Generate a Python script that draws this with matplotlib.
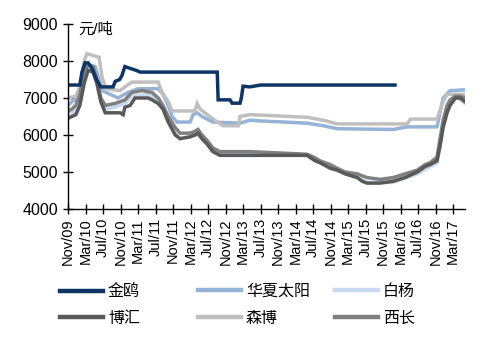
import matplotlib
matplotlib.use("Agg")
import matplotlib.pyplot as plt
from matplotlib.lines import Line2D

plt.rcParams['font.family'] = ['Liberation Sans', 'Noto Sans CJK SC', 'DejaVu Sans']

# months since Nov 2009
tick_labels = ["Nov/09", "Mar/10", "Jul/10", "Nov/10", "Mar/11", "Jul/11", "Nov/11", "Mar/12",
               "Jul/12", "Nov/12", "Mar/13", "Jul/13", "Nov/13", "Mar/14", "Jul/14", "Nov/14",
               "Mar/15", "Jul/15", "Nov/15", "Mar/16", "Jul/16", "Nov/16", "Mar/17"]
tick_months = [4 * i for i in range(len(tick_labels))]

jinou_m = [0, 2.7, 3.2, 3.9, 4.6, 5.5, 6.5, 7.5, 8.5, 10.3, 10.8, 11.8, 12.3, 13.0, 14.2, 15.5, 16.5,
           34.1, 34.3, 37.0, 37.5, 39.3, 39.6, 40.0, 41.5, 44.0, 74.7]
jinou_v = [7350, 7350, 7700, 7950, 7950, 7800, 7500, 7300, 7300, 7300, 7450, 7500, 7600, 7850, 7800, 7750, 7700,
           7700, 6950, 6950, 6860, 6860, 7000, 7320, 7300, 7350, 7350]

huaxia_m = [0, 0.9, 2.3, 3.2, 4.1, 6.2, 7.1, 7.8, 9.6, 11.4, 13.7, 16.0, 20.6, 21.7, 22.9, 23.8, 24.9,
            27.9, 28.6, 29.5, 30.6, 33.1, 39.3, 41.6, 43.9, 54.6, 58.3, 61.5, 74.3, 77.5, 84.3, 85.7, 87.3, 90.7]
huaxia_v = [6800, 6900, 7000, 7500, 7900, 7850, 7500, 7200, 7100, 7000, 7150, 7250, 7250, 7100, 6800, 6500, 6350,
            6350, 6550, 6600, 6500, 6350, 6320, 6400, 6380, 6320, 6250, 6170, 6150, 6220, 6220, 7000, 7200, 7220]

baiyang_m = [0, 1.8, 2.7, 3.7, 4.6, 5.7, 6.6, 7.5, 8.5, 10.7, 13.0, 14.6, 18.3, 20.6, 22.9, 24.5, 25.6, 29.0,
             29.7, 31.8, 33.1, 34.7, 54.6, 57.6, 61.5, 66.1, 68.3, 74.3, 79.8, 84.3, 85.7, 87.3, 88.5, 90.7]
baiyang_v = [6550, 6650, 6900, 7500, 7800, 7750, 7400, 6900, 6700, 6750, 6850, 7050, 7100, 6950, 6450, 6050, 5900, 6000,
             6000, 5800, 5600, 5500, 5450, 5250, 5050, 4850, 4720, 4720, 4950, 5250, 6300, 6900, 7050, 6850]

senbo_m = [0, 1.8, 2.7, 3.7, 4.3, 7.1, 7.8, 8.7, 11.9, 13.0, 14.6, 20.6, 21.5, 22.9, 23.8, 29.0, 29.5, 30.2,
           31.8, 34.1, 35.4, 38.9, 39.3, 41.6, 54.6, 58.3, 61.5, 77.5, 78.2, 84.3, 85.7, 86.6, 90.7]
senbo_v = [7000, 7050, 7300, 8000, 8200, 8100, 7550, 7250, 7200, 7300, 7430, 7430, 7150, 6900, 6650, 6650, 6850, 6700,
           6550, 6350, 6250, 6250, 6500, 6550, 6480, 6400, 6300, 6300, 6430, 6430, 6900, 7100, 7100]

xichang_m = [0, 0.9, 1.8, 2.7, 3.7, 4.6, 5.7, 6.6, 7.5, 8.5, 10.7, 13.0, 14.6, 16.9, 19.2, 20.6, 21.7, 22.9, 24.5,
             25.6, 27.9, 29.0, 29.7, 30.6, 31.8, 33.1, 34.7, 41.6, 54.6, 56.5, 57.6, 59.9, 61.5, 63.3, 66.1, 68.3,
             71.3, 74.3, 77.0, 79.8, 81.6, 82.7, 84.3, 85.0, 85.7, 86.6, 87.3, 88.5, 89.6, 90.7]
xichang_v = [6650, 6700, 6800, 7100, 7700, 7900, 7850, 7500, 7000, 6800, 6850, 6950, 7150, 7200, 7150, 7000, 6800, 6500, 6200,
             6050, 6050, 6100, 6150, 6000, 5850, 5650, 5550, 5550, 5480, 5380, 5300, 5200, 5100, 5000, 4950, 4850,
             4800, 4850, 4950, 5050, 5200, 5250, 5400, 5900, 6400, 6800, 6950, 7050, 7050, 7000]

bohui_m = [0, 0.9, 1.8, 2.7, 3.7, 4.6, 5.7, 6.6, 7.5, 8.5, 10.7, 11.9, 12.6, 13.0, 14.2, 15.3, 18.3, 19.2, 20.6, 21.7,
           22.9, 24.5, 25.6, 27.9, 29.0, 29.7, 30.6, 31.8, 33.1, 34.7, 41.6, 54.6, 56.5, 57.6, 59.9, 61.5, 63.3, 66.1,
           67.2, 68.3, 71.3, 74.3, 77.0, 79.8, 81.6, 82.7, 84.3, 85.0, 85.7, 86.6, 87.3, 88.5, 89.6, 90.7]
bohui_v = [6450, 6500, 6550, 6800, 7400, 7750, 7700, 7400, 6900, 6600, 6600, 6600, 6550, 6750, 6800, 7000, 7000, 6950, 6850, 6700,
           6350, 6000, 5900, 5950, 6000, 6050, 5900, 5750, 5550, 5450, 5450, 5450, 5300, 5250, 5100, 5050, 4950, 4850,
           4750, 4700, 4700, 4750, 4850, 5000, 5150, 5200, 5300, 5700, 6200, 6600, 6800, 7000, 7000, 6900]

series = [
    ("白杨", baiyang_m, baiyang_v, "#c6d9f1"),
    ("华夏太阳", huaxia_m, huaxia_v, "#95b3d7"),
    ("森博", senbo_m, senbo_v, "#bfbfbf"),
    ("西长", xichang_m, xichang_v, "#808080"),
    ("博汇", bohui_m, bohui_v, "#595959"),
    ("金鸥", jinou_m, jinou_v, "#0d3566"),
]
colors = {name: c for name, _, _, c in series}

fig = plt.figure(figsize=(5.0, 3.48), dpi=100)
ax = fig.add_axes([68/500, 1-209/348, (465-68)/500, (209-24)/348])

for name, m, v, c in series:
    ax.plot(m, v, color=c, lw=2.5, solid_joinstyle='miter')

ax.set_xlim(0, 90.7)
ax.set_ylim(4000, 9000)
ax.set_yticks([4000, 5000, 6000, 7000, 8000, 9000])
ax.set_xticks(tick_months)
ax.set_xticklabels(tick_labels, rotation=90)
for s in ['top', 'right']:
    ax.spines[s].set_visible(False)
for s in ['left', 'bottom']:
    ax.spines[s].set_linewidth(1.0)
ax.tick_params(axis='y', direction='inout', length=6.5, width=1.0, labelsize=11.5, pad=4)
ax.tick_params(axis='x', direction='inout', length=7, width=1.0, labelsize=10.5, pad=3)

fig.text(78/500, 1-30/348, "元/吨", fontsize=11, va='center', ha='left')

cols = [["金鸥", "博汇"], ["华夏太阳", "森博"], ["白杨", "西长"]]
xs = [60, 198, 335]
for names, xp in zip(cols, xs):
    handles = [Line2D([0], [0], color=colors[n], lw=3.2) for n in names]
    fig.legend(handles, names, loc='upper left', bbox_to_anchor=(xp/500, 1-284/348),
               frameon=False, fontsize=11.5, handlelength=2.7, handletextpad=0.3,
               labelspacing=0.75, borderpad=0, borderaxespad=0)

fig.savefig("out.png", dpi=100)
